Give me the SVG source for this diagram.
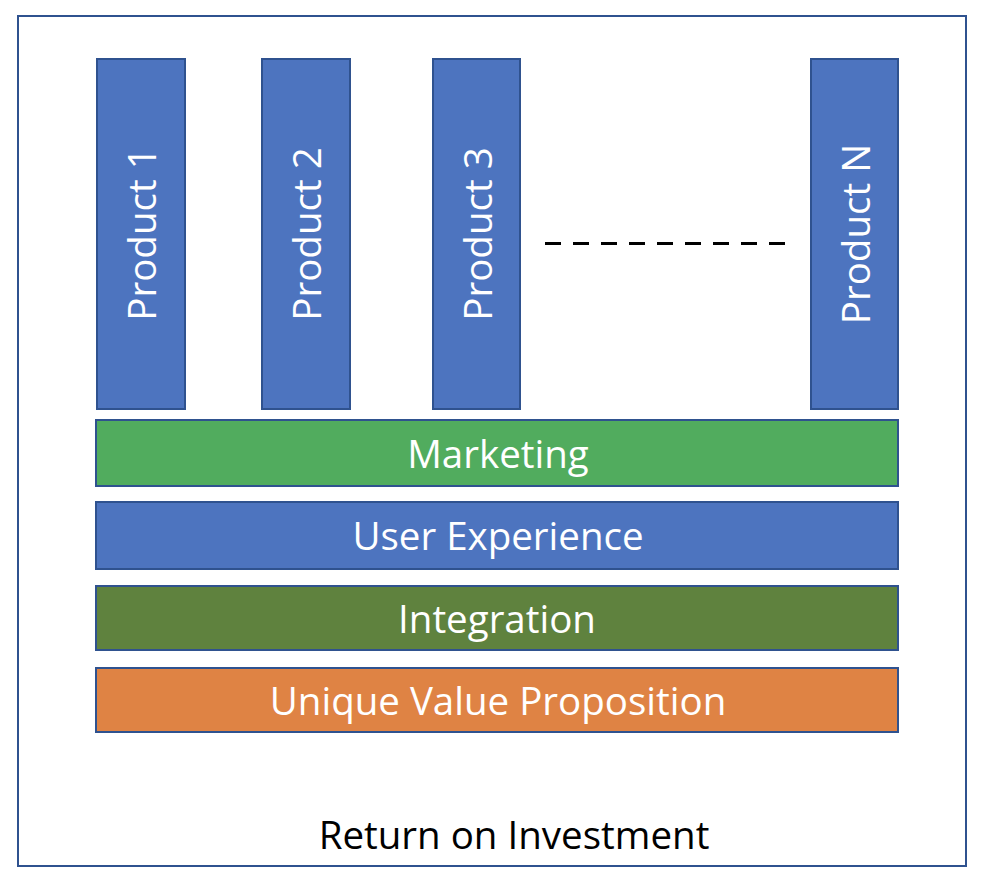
<svg xmlns="http://www.w3.org/2000/svg" width="982" height="880" viewBox="0 0 982 880">
<style>
.box{stroke:#2F528F;stroke-width:2}
.blue{fill:#4D74BF}
.lbl{font-family:"Open Sans","Liberation Sans",sans-serif;font-size:38.5px;fill:#fff;text-anchor:middle;dominant-baseline:central}
</style>
<rect x="0" y="0" width="982" height="880" fill="#fff"/>
<rect id="frame" x="18" y="16" width="948" height="850" fill="#fff" stroke="#2F528F" stroke-width="2"/>
<g id="product1"><rect class="box blue" x="97" y="59" width="88" height="350"/><text class="lbl" transform="translate(141,234) rotate(-90)">Product 1</text></g>
<g id="product2"><rect class="box blue" x="262" y="59" width="88" height="350"/><text class="lbl" transform="translate(306,234) rotate(-90)">Product 2</text></g>
<g id="product3"><rect class="box blue" x="433" y="59" width="87" height="350"/><text class="lbl" transform="translate(477,234) rotate(-90)">Product 3</text></g>
<g id="productN"><rect class="box blue" x="811" y="59" width="87" height="350"/><text class="lbl" transform="translate(855,234) rotate(-90)">Product N</text></g>
<g id="connectors"><line x1="545" y1="243.5" x2="786" y2="243.5" stroke="#000" stroke-width="3" stroke-dasharray="16 12"/></g>
<g id="marketing"><rect class="box" fill="#51AC5E" x="96" y="420" width="802" height="66"/><text class="lbl" x="498" y="453">Marketing</text></g>
<g id="ux"><rect class="box blue" x="96" y="502" width="802" height="67"/><text class="lbl" x="498" y="535">User Experience</text></g>
<g id="integration"><rect class="box" fill="#5F823E" x="96" y="586" width="802" height="64"/><text class="lbl" x="497" y="618">Integration</text></g>
<g id="uvp"><rect class="box" fill="#DF8344" x="96" y="668" width="802" height="64"/><text class="lbl" x="498" y="700">Unique Value Proposition</text></g>
<g id="roi"><text class="lbl" style="fill:#000" x="514" y="834">Return on Investment</text></g>
</svg>
